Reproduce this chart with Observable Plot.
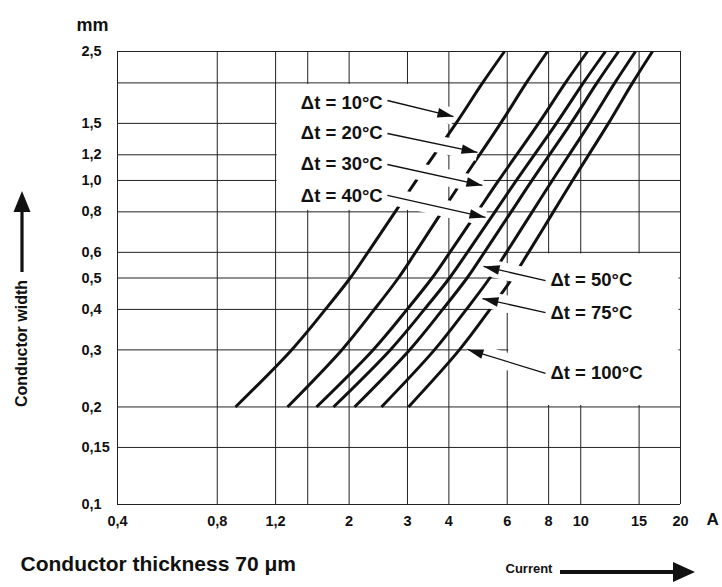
<!DOCTYPE html>
<html>
<head>
<meta charset="utf-8">
<script src="https://cdn.jsdelivr.net/npm/d3@7"></script>
<script src="https://cdn.jsdelivr.net/npm/@observablehq/plot@0.6"></script>
<style>
  html, body { margin: 0; padding: 0; background: #fff; }
  svg { display: block; }
</style>
</head>
<body>
<script>
// ---- Data (current in A for each conductor width in mm) ----
const widthLevels = [0.2, 0.3, 0.4, 0.5, 0.6, 0.8, 1.0, 1.5, 2.0, 2.5];
const dt10  = [0.908, 1.341, 1.696, 2.015, 2.279, 2.754, 3.191, 4.202, 5.055, 5.886];
const dt20  = [1.303, 1.901, 2.384, 2.816, 3.172, 3.810, 4.393, 5.729, 6.849, 7.935];
const dt30  = [1.594, 2.362, 2.992, 3.559, 4.028, 4.876, 5.654, 7.460, 8.986, 10.48];
const dt40  = [1.794, 2.662, 3.374, 4.017, 4.549, 5.510, 6.393, 8.442, 10.18, 11.87];
const dt50  = [2.076, 3.044, 3.831, 4.539, 5.119, 6.167, 7.125, 9.337, 11.19, 13.00];
const dt75  = [2.504, 3.619, 4.517, 5.315, 5.968, 7.140, 8.205, 10.64, 12.67, 14.63];
const dt100 = [3.021, 4.303, 5.322, 6.222, 6.959, 8.267, 9.447, 12.12, 14.33, 16.46];
const seriesNames = ["Δt = 10°C", "Δt = 20°C", "Δt = 30°C", "Δt = 40°C", "Δt = 50°C", "Δt = 75°C", "Δt = 100°C"];
const seriesValues = [dt10, dt20, dt30, dt40, dt50, dt75, dt100];

// grid & ticks
const xGrid = [0.4, 0.8, 1.2, 1.5, 2, 3, 4, 6, 8, 10, 15, 20];
const yGrid = [0.1, 0.15, 0.2, 0.3, 0.4, 0.5, 0.6, 0.8, 1.0, 1.2, 1.5, 2, 2.5];
const xTicks = [0.4, 0.8, 1.2, 2, 3, 4, 6, 8, 10, 15, 20];
const xTickLabels = ["0,4", "0,8", "1,2", "2", "3", "4", "6", "8", "10", "15", "20"];
const yTicks = [0.1, 0.15, 0.2, 0.3, 0.4, 0.5, 0.6, 0.8, 1.0, 1.2, 1.5, 2.5];
const yTickLabels = ["0,1", "0,15", "0,2", "0,3", "0,4", "0,5", "0,6", "0,8", "1,0", "1,2", "1,5", "2,5"];

// annotation labels (data coordinates) and their arrows
const labelX = [1.43, 1.43, 1.43, 1.43, 8.1, 8.1, 8.1];
const labelY = [1.727, 1.396, 1.12, 0.892, 0.491, 0.391, 0.254];
const arrowStartX = [2.61, 2.61, 2.61, 2.61, 7.83, 7.83, 7.83];
const arrowStartY = [1.765, 1.396, 1.12, 0.899, 0.491, 0.391, 0.254];
const arrowTipX = [4.13, 4.88, 5.05, 5.16, 5.09, 5.05, 4.55];
const arrowTipY = [1.575, 1.22, 0.965, 0.769, 0.543, 0.432, 0.301];

// white label panels (data extents)
const panelX1 = [1.2, 6];
const panelX2 = [4, 20];
const panelY1 = [0.8, 0.2];
const panelY2 = [2, 0.6];

// ---- Build tables ----
const rows = [];
seriesValues.forEach((vals, s) => {
  vals.forEach((v, i) => rows.push({series: seriesNames[s], current: v, width: widthLevels[i]}));
});
const annotations = seriesNames.map((name, i) => ({
  label: name, lx: labelX[i], ly: labelY[i],
  sx: arrowStartX[i], sy: arrowStartY[i], tx: arrowTipX[i], ty: arrowTipY[i]
}));
const panels = panelX1.map((d, i) => ({x1: d, x2: panelX2[i], y1: panelY1[i], y2: panelY2[i]}));
const xTickRows = xTicks.map((d, i) => ({v: d, t: xTickLabels[i]}));
const yTickRows = yTicks.map((d, i) => ({v: d, t: yTickLabels[i]}));

const FONT = "'Liberation Sans', Arial, Helvetica, sans-serif";
const INK = "#111";

const chart = Plot.plot({
  width: 722,
  height: 587,
  marginLeft: 117,
  marginRight: 42,
  marginTop: 51,
  marginBottom: 83,
  x: {type: "log", domain: [0.4, 20], axis: null},
  y: {type: "log", domain: [0.1, 2.5], axis: null},
  style: {fontFamily: FONT, background: "#fff", color: INK},
  marks: [
    Plot.ruleX(xGrid, {x: d => d, stroke: "#222", strokeWidth: 1}),
    Plot.ruleY(yGrid, {y: d => d, stroke: "#222", strokeWidth: 1}),
    Plot.rect(panels, {x1: "x1", x2: "x2", y1: "y1", y2: "y2", fill: "#fff", inset: 1.5}),
    Plot.line(rows, {x: "current", y: "width", z: "series", stroke: INK, strokeWidth: 3, curve: "catmull-rom", strokeLinecap: "butt"}),
    Plot.link(annotations, {x1: "sx", y1: "sy", x2: "tx", y2: "ty", stroke: "#fff", strokeWidth: 17}),
    Plot.link(annotations, {x1: "sx", y1: "sy", x2: "tx", y2: "ty", stroke: INK, strokeWidth: 1.3}),
    Plot.text(annotations, {x: "lx", y: "ly", text: "label", textAnchor: "start", fontSize: 18.5, fontWeight: "bold", fill: INK}),
    Plot.text(xTickRows, {x: "v", text: "t", frameAnchor: "bottom", dy: 21, fontSize: 14.5, fontWeight: "bold", fill: INK}),
    Plot.text(yTickRows, {y: "v", text: "t", frameAnchor: "left", dx: -36, textAnchor: "start", fontSize: 14.5, fontWeight: "bold", fill: INK}),
    Plot.text(["mm"], {frameAnchor: "top-left", dx: -41, dy: -33, textAnchor: "start", fontSize: 18, fontWeight: "bold", fill: INK}),
    Plot.text(["A"], {frameAnchor: "bottom-right", dx: 26, dy: 20, textAnchor: "start", fontSize: 17, fontWeight: "bold", fill: INK}),
    Plot.text(["Conductor thickness 70 μm"], {frameAnchor: "bottom-left", dx: -97, dy: 66, textAnchor: "start", fontSize: 21, fontWeight: "bold", fill: INK}),
    Plot.text(["Current"], {frameAnchor: "bottom-right", dx: -175, dy: 68, textAnchor: "start", fontSize: 13, fontWeight: "bold", fill: INK}),
    Plot.text(["Conductor width"], {frameAnchor: "left", dx: -96, dy: 65.5, rotate: -90, textAnchor: "middle", fontSize: 16, fontWeight: "bold", fill: INK})
  ]
});
document.body.appendChild(chart);

// filled arrowheads for annotation arrows
const svg = d3.select(chart.tagName.toLowerCase() === "svg" ? chart : chart.querySelector("svg"));
svg.append("defs").append("marker")
  .attr("id", "ahead")
  .attr("viewBox", "-17 -6 18 12")
  .attr("refX", 0).attr("refY", 0)
  .attr("markerWidth", 18).attr("markerHeight", 12)
  .attr("markerUnits", "userSpaceOnUse")
  .attr("orient", "auto")
  .append("path").attr("d", "M0,0L-16,-4.8L-16,4.8Z").attr("fill", INK);
const linkGroups = svg.selectAll('g[aria-label="link"]').nodes();
d3.select(linkGroups[linkGroups.length - 1]).selectAll("path,line").attr("marker-end", "url(#ahead)");

// decorative direction arrows in the margins
const deco = svg.append("g").attr("fill", INK).attr("stroke", INK);
deco.append("line").attr("x1", 22).attr("y1", 272).attr("x2", 22).attr("y2", 208).attr("stroke-width", 3.2);
deco.append("path").attr("d", "M22,191L13.5,212L30.5,212Z").attr("stroke", "none");
deco.append("line").attr("x1", 560).attr("y1", 572).attr("x2", 676).attr("y2", 572).attr("stroke-width", 4);
deco.append("path").attr("d", "M673,562L695,572L673,582Z").attr("stroke", "none");
</script>
</body>
</html>
